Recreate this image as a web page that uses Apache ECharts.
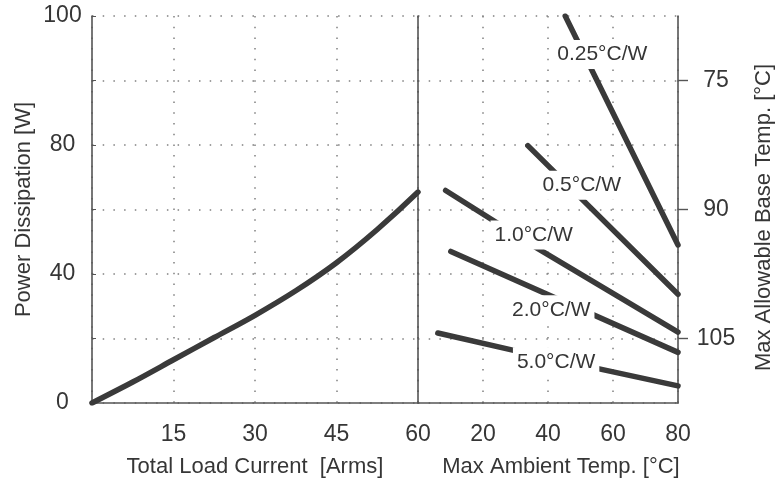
<!DOCTYPE html>
<html>
<head>
<meta charset="utf-8">
<script src="https://cdn.jsdelivr.net/npm/echarts@6/dist/echarts.min.js"></script>
<style>
html,body{margin:0;padding:0;background:#fff;}
#chart{width:776px;height:483px;}
</style>
</head>
<body>
<div id="chart"></div>
<script>
// ---- data ----
const loadCurrent      = [0, 7.5, 15, 22.5, 30, 37.5, 45, 52.5, 60];
const powerDissipation = [0, 6.5, 13.4, 20.3, 27.2, 34.8, 43.5, 53.8, 65.4];

const ambient025 = [45.3, 80];        const power025 = [120, 49];
const ambient05  = [33.8, 80];        const power05  = [79.8, 33.7];
const ambient10  = [8.5, 37, 80];     const power10  = [65.9, 47.8, 22.0];
const ambient20  = [10.1, 80];        const power20  = [47.0, 15.7];
const ambient50  = [6.1, 30.8, 80];   const power50  = [21.7, 16.0, 5.3];

const resistanceLabels = ['0.25°C/W', '0.5°C/W', '1.0°C/W', '2.0°C/W', '5.0°C/W'];

const powerTickLabels   = {0: '0', 40: '40', 80: '80', 120: '100'};
const currentTicks      = [15, 30, 45, 60];
const ambientTicks      = [20, 40, 60, 80];
const baseTempTicks     = [75, 90, 105];

// ---- chart ----
const FONT = 'Liberation Sans, Arial, sans-serif';
const TXT = '#363636';
const AXIS = '#555';
const DOT = {color: '#808080', type: [1.5, 9.2], width: 1.5};
const LINE = {width: 5.5, color: '#3a3a3a', cap: 'round', join: 'round'};

function zip(xs, ys) { return xs.map((x, i) => [x, ys[i]]); }

function rLine(xs, ys, label, coord) {
  return {
    type: 'line', xAxisIndex: 1, yAxisIndex: 1,
    data: zip(xs, ys), symbol: 'none', lineStyle: LINE, silent: true,
    markPoint: {
      symbol: 'circle', symbolSize: 0, z: 10, silent: true,
      label: {
        show: true, position: 'inside', formatter: label,
        fontFamily: FONT, fontSize: 21, color: TXT,
        backgroundColor: '#fff', padding: [4, 4]
      },
      data: [{coord: coord}]
    }
  };
}

const chart = echarts.init(document.getElementById('chart'), null, {renderer: 'canvas'});
chart.setOption({
  animation: false,
  backgroundColor: '#fff',
  grid: [
    {left: 92, top: 16, width: 326, height: 388},
    {left: 418, top: 16, width: 260, height: 388}
  ],
  xAxis: [
    {
      gridIndex: 0, type: 'value', min: 0, max: 60, interval: 15,
      axisLine: {show: true, onZero: false, lineStyle: {color: AXIS, width: 1.6}},
      axisTick: {show: false},
      axisLabel: {margin: 20, fontSize: 23, color: TXT, fontFamily: FONT,
        formatter: v => currentTicks.indexOf(v) >= 0 ? String(v) : ''},
      splitLine: {show: true, lineStyle: DOT},
      name: 'Total Load Current  [Arms]', nameLocation: 'middle', nameGap: 53,
      nameTextStyle: {fontSize: 22, color: TXT, fontFamily: FONT}
    },
    {
      gridIndex: 1, type: 'value', min: 0, max: 80, interval: 20,
      axisLine: {show: true, onZero: false, lineStyle: {color: AXIS, width: 1.6}},
      axisTick: {show: false},
      axisLabel: {margin: 20, fontSize: 23, color: TXT, fontFamily: FONT,
        formatter: v => ambientTicks.indexOf(v) >= 0 ? String(v) : ''},
      splitLine: {show: true, lineStyle: DOT},
      name: 'Max Ambient Temp. [°C]', nameLocation: 'middle', nameGap: 53,
      nameTextStyle: {fontSize: 22, color: TXT, fontFamily: FONT, padding: [0, 0, 0, 26]}
    }
  ],
  yAxis: [
    {
      gridIndex: 0, type: 'value', min: 0, max: 120, interval: 20,
      axisLine: {show: true, onZero: false, lineStyle: {color: AXIS, width: 1.6}},
      axisTick: {show: true, inside: true, length: 4, lineStyle: {color: AXIS}},
      axisLabel: {margin: 29.5, align: 'center', fontSize: 23, color: TXT, fontFamily: FONT,
        formatter: v => powerTickLabels[v] !== undefined ? powerTickLabels[v] : ''},
      splitLine: {show: true, lineStyle: DOT},
      name: 'Power Dissipation [W]', nameLocation: 'middle', nameGap: 57, nameRotate: 90,
      nameTextStyle: {fontSize: 22, color: TXT, fontFamily: FONT}
    },
    {
      gridIndex: 1, type: 'value', min: 0, max: 120, interval: 20,
      axisLine: {show: true, onZero: false, lineStyle: {color: AXIS, width: 1.6}},
      axisTick: {show: false},
      axisLabel: {show: false},
      splitLine: {show: true, lineStyle: DOT}
    },
    {
      gridIndex: 1, type: 'value', position: 'right', inverse: true,
      min: 67.5, max: 112.5, interval: 7.5,
      axisLine: {show: true, onZero: false, lineStyle: {color: AXIS, width: 1.6}},
      axisTick: {show: true, length: 10, customValues: baseTempTicks, lineStyle: {color: AXIS, width: 1.4}},
      axisLabel: {margin: 38, align: 'center', fontSize: 23, color: TXT, fontFamily: FONT,
        customValues: baseTempTicks,
        formatter: v => baseTempTicks.indexOf(v) >= 0 ? String(v) : ''},
      splitLine: {show: false},
      name: 'Max Allowable Base Temp. [°C]', nameLocation: 'middle', nameGap: 75, nameRotate: 90,
      nameTextStyle: {fontSize: 22, color: TXT, fontFamily: FONT, padding: [0, 16, 0, 0]}
    }
  ],
  series: [
    {
      type: 'line', xAxisIndex: 0, yAxisIndex: 0,
      data: zip(loadCurrent, powerDissipation), symbol: 'none', smooth: 0.3,
      lineStyle: LINE, silent: true
    },
    rLine(ambient025, power025, resistanceLabels[0], [56.7, 108.1]),
    rLine(ambient05,  power05,  resistanceLabels[1], [50.4, 67.5]),
    rLine(ambient10,  power10,  resistanceLabels[2], [35.6, 52.1]),
    rLine(ambient20,  power20,  resistanceLabels[3], [41.0, 28.9]),
    rLine(ambient50,  power50,  resistanceLabels[4], [42.5, 12.8])
  ]
});
</script>
</body>
</html>
